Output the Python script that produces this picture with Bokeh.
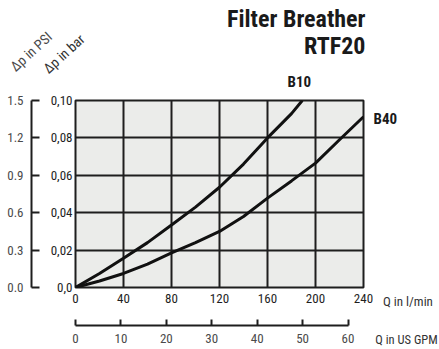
import math
from bokeh.plotting import figure
from bokeh.layouts import column, row
from bokeh.models import Range1d, LinearAxis, FixedTicker, Label
from bokeh.embed import file_html
from bokeh.resources import INLINE

# ---- data ----
q_b10 = [0, 20, 40, 60, 80, 100, 120, 140, 160, 180, 189]
dp_b10 = [0, 0.0075, 0.0157, 0.024, 0.0334, 0.043, 0.0536, 0.066, 0.080, 0.093, 0.100]
q_b40 = [0, 20, 40, 60, 80, 100, 120, 140, 160, 180, 200, 220, 240]
dp_b40 = [0, 0.0035, 0.0075, 0.0125, 0.0185, 0.024, 0.030, 0.038, 0.0478, 0.057, 0.0665, 0.079, 0.0913]

q_ticks = [0, 40, 80, 120, 160, 200, 240]
gpm_ticks = [0, 10, 20, 30, 40, 50, 60]
bar_ticks = [0, 0.02, 0.04, 0.06, 0.08, 0.10]
bar_labels = ["0,0", "0,02", "0,04", "0,06", "0,08", "0,10"]
psi_ticks = [0, 0.3, 0.6, 0.9, 1.2, 1.5]
psi_labels = ["0.0", "0.3", "0.6", "0.9", "1.2", "1.5"]
LPM_PER_GPM = 3.785

FONT = "Roboto Condensed"
DARK = "#1e1e1e"
GREY = "#4a4a4a"

# ---- layout geometry (pixels) ----
W, H = 439, 349
TOP_H = 92
MAIN_W = 373
FR_L, FR_R, FR_T, FR_H = 75, 363, 100, 187
X0, X1 = q_ticks[0], q_ticks[-1]
Y0, Y1 = bar_ticks[0], bar_ticks[-1]
px_x = (FR_R - FR_L) / (X1 - X0)
px_y = FR_H / (Y1 - Y0)
MAIN_H = H - TOP_H
BORDER_T = FR_T - TOP_H
BORDER_B = MAIN_H - BORDER_T - FR_H
ROT = 0.74

def xr(a, b):
    return Range1d(X0 + (a - FR_L) / px_x, X0 + (b - FR_L) / px_x)

def yr(top, bottom):
    frame_bottom = FR_T + FR_H
    return Range1d(Y0 + (frame_bottom - bottom) / px_y, Y0 + (frame_bottom - top) / px_y)

def lab(f, x, y, text, xo=0, yo=0, size="13px", style="normal", align="left",
        color=DARK, angle=0.0, baseline="alphabetic"):
    f.add_layout(Label(x=x, y=y, text=text, x_offset=xo, y_offset=yo,
                       text_font=FONT, text_font_size=size, text_font_style=style,
                       text_align=align, text_color=color, angle=angle,
                       angle_units="rad", text_baseline=baseline))

def label_only(ax, standoff, color, filler_size=None, filler_standoff=0):
    ax.axis_line_color = None
    ax.major_tick_line_color = None
    ax.minor_tick_line_color = None
    ax.major_tick_out = 0
    ax.major_tick_in = 0
    ax.major_label_standoff = standoff
    ax.major_label_text_font = FONT
    ax.major_label_text_font_size = "13px"
    ax.major_label_text_color = color
    if filler_size:
        ax.axis_label = " "
        ax.axis_label_text_font_size = filler_size
        ax.axis_label_standoff = filler_standoff

def lined(ax, tick_in, standoff, color):
    ax.axis_line_color = DARK
    ax.axis_line_width = 2
    ax.major_tick_line_color = DARK
    ax.major_tick_line_width = 2
    ax.major_tick_in = tick_in
    ax.major_tick_out = 0
    ax.minor_tick_line_color = None
    ax.major_label_standoff = standoff
    ax.major_label_text_font = FONT
    ax.major_label_text_font_size = "13px"
    ax.major_label_text_color = color

Q_STANDOFF, Q_FILL, Q_FILL_SO = 6, "11px", 5
G_STANDOFF = 8

# ---- main chart ----
p = figure(width=MAIN_W, height=MAIN_H, output_backend="svg", toolbar_location=None,
           x_range=Range1d(X0, X1), y_range=Range1d(Y0, Y1), title=None,
           min_border_left=FR_L, min_border_right=MAIN_W - FR_R,
           min_border_top=BORDER_T, min_border_bottom=BORDER_B,
           x_axis_location=None, y_axis_location=None)
p.border_fill_color = "white"
p.background_fill_color = "#ebecea"
p.outline_line_color = DARK
p.outline_line_width = 2

p.extra_y_ranges = {"psi": Range1d(psi_ticks[0], psi_ticks[-1])}
p.extra_x_ranges = {"gpm": Range1d(X0 / LPM_PER_GPM, X1 / LPM_PER_GPM)}

bar_ax = LinearAxis(ticker=FixedTicker(ticks=bar_ticks),
                    major_label_overrides={t: l for t, l in zip(bar_ticks, bar_labels)})
label_only(bar_ax, 3, DARK, "9px", 3)
p.add_layout(bar_ax, "left")

psi_ax = LinearAxis(y_range_name="psi", ticker=FixedTicker(ticks=psi_ticks),
                    major_label_overrides={t: l for t, l in zip(psi_ticks, psi_labels)})
lined(psi_ax, 8, 8, GREY)
p.add_layout(psi_ax, "left")

q_ax = LinearAxis(ticker=FixedTicker(ticks=q_ticks))
label_only(q_ax, Q_STANDOFF, DARK, Q_FILL, Q_FILL_SO)
p.add_layout(q_ax, "below")

gpm_ax = LinearAxis(x_range_name="gpm", ticker=FixedTicker(ticks=gpm_ticks),
                    bounds=(gpm_ticks[0], gpm_ticks[-1]))
lined(gpm_ax, 6, G_STANDOFF, GREY)
p.add_layout(gpm_ax, "below")

p.xgrid.ticker = FixedTicker(ticks=q_ticks)
p.ygrid.ticker = FixedTicker(ticks=bar_ticks)
for g in (p.xgrid, p.ygrid):
    g.grid_line_color = DARK
    g.grid_line_width = 2

p.line(q_b10, dp_b10, line_color="#111111", line_width=3)
p.line(q_b40, dp_b40, line_color="#111111", line_width=3)

# ---- top strip: titles, curve label B10, axis titles ----
# (its frame is laid out BORDER_T px lower than the strip's top edge)
top = figure(width=W, height=TOP_H, output_backend="svg", toolbar_location=None,
             x_range=xr(0, W), y_range=yr(BORDER_T, TOP_H + BORDER_T), min_border=0, title=None,
             x_axis_location=None, y_axis_location=None)
top.grid.visible = False
top.outline_line_color = None
lab(top, X1, Y1, "Filter Breather", xo=2, yo=74, size="24px", style="bold", align="right", color="#1a1a1a")
lab(top, X1, Y1, "RTF20", xo=2, yo=47, size="24px", style="bold", align="right", color="#1a1a1a")
lab(top, q_b10[-1], dp_b10[-1], "B10", xo=-3, yo=11, size="15px", style="bold", align="center", color="#1a1a1a")
lab(top, X0, Y1, "Δp in PSI", xo=-63, yo=24, size="14px", angle=ROT, color=GREY)
lab(top, X0, Y1, "Δp in bar", xo=-30, yo=22, size="14px", angle=ROT, color="#333333")

# ---- right strip (frame aligned with main frame): B40 and flow-axis titles ----
RIGHT_W = W - MAIN_W
right = figure(width=RIGHT_W, height=MAIN_H, output_backend="svg", toolbar_location=None,
               x_range=xr(MAIN_W, W), y_range=Range1d(Y0, Y1), title=None,
               min_border_left=0, min_border_right=0,
               min_border_top=BORDER_T, min_border_bottom=BORDER_B,
               x_axis_location=None, y_axis_location=None)
right.grid.visible = False
right.outline_line_color = None
lab(right, q_b40[-1], dp_b40[-1], "B40", xo=10, yo=-2.5, size="15px", style="bold", color="#1a1a1a")

q_title_pos = X1 + 48          # centre of "Q in l/min", l/min units
rq = LinearAxis(ticker=FixedTicker(ticks=[q_title_pos]),
                major_label_overrides={q_title_pos: "Q in l/min"})
label_only(rq, Q_STANDOFF, "#333333")
rq.axis_label = "Q in US GPM"
rq.axis_label_text_font = FONT
rq.axis_label_text_font_size = "12.5px"
rq.axis_label_text_font_style = "normal"
rq.axis_label_text_color = "#333333"
rq.axis_label_standoff = 20
right.add_layout(rq, "below")

layout = column(top, row(p, right, spacing=0), spacing=0)
open("out.html", "w").write(file_html(layout, INLINE))
